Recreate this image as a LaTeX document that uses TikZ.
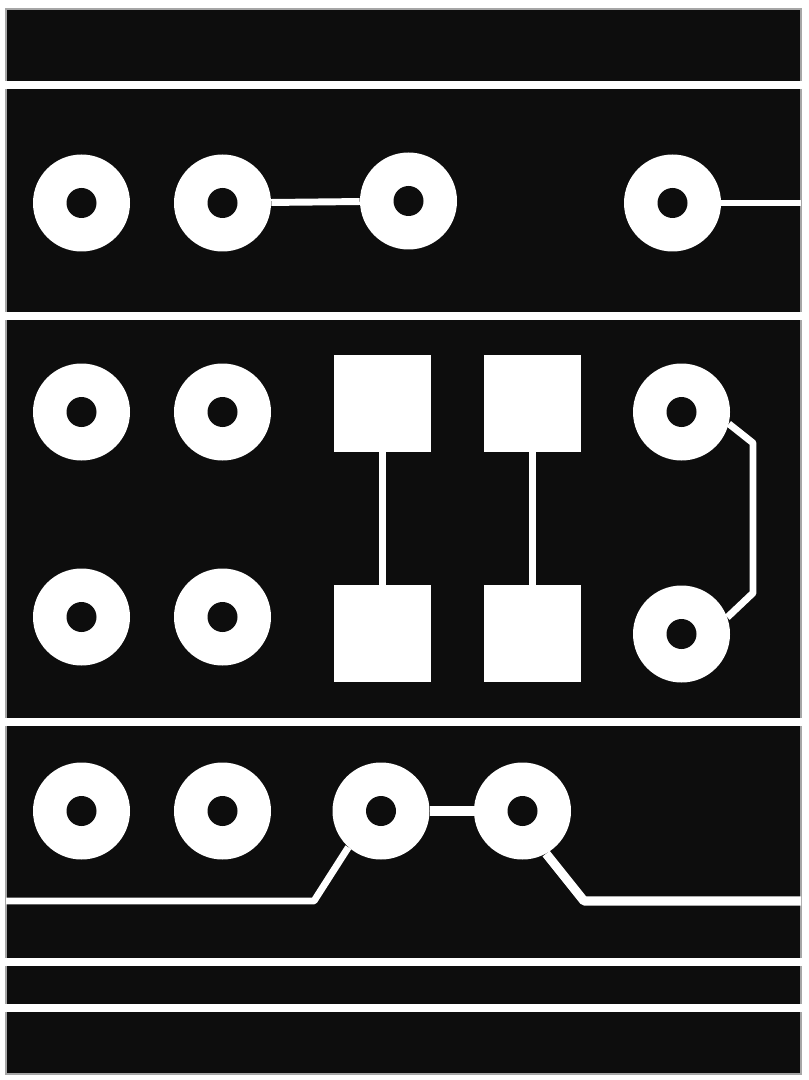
\documentclass[tikz,border=0pt]{standalone}
\usepackage{xcolor}
\definecolor{board}{gray}{0.05}
\tikzset{
  pad/.style={circle,fill=white,inner sep=0pt,minimum size=72.75pt},
  hole/.style={circle,fill=board,inner sep=0pt,minimum size=22.5pt},
  block/.style={rectangle,fill=white,inner sep=0pt,minimum size=72.75pt},
  track/.style={white,line width=5.2pt,line join=bevel},
  widetrack/.style={white,line width=6.8pt,line join=bevel},
  rail/.style={white,line width=6pt}
}
\begin{document}
\begin{tikzpicture}[x=0.75pt,y=-0.75pt]
        \useasboundingbox (0,0) rectangle (808,1080);
        \fill [white] (0,0) rectangle (808,1080);
        \draw [fill=board,draw=gray!70,line width=1.5pt] (5.5,9.5) rectangle (801,1073.5);
        \draw [rail] (5,85.5) -- (802,85.5);
        \draw [rail] (5,315.5) -- (802,315.5);
        \draw [rail] (5,721.5) -- (802,721.5);
        \draw [rail] (5,962) -- (802,962);
        \draw [rail] (5,1007.5) -- (802,1007.5);
        % pads
        \foreach \padname/\px/\py in {a1/81.5/203,a2/222.5/203,a3/408.5/201,a4/672.5/203,
            b1/81.5/412,b2/222.5/412,b3/681.5/412,
            c1/81.5/617,c2/222.5/617,c3/681.5/634,
            d1/81.5/811,d2/222.5/811,d3/381/811,d4/522.5/811} {
            \node [pad] (\padname) at (\px,\py) {};
            \node [hole] (h\padname) at (\px,\py) {};
        }
        % squares
        \node [block] (s1) at (382.5,403) {};
        \node [block] (s2) at (532.5,403) {};
        \node [block] (s3) at (382.5,633.5) {};
        \node [block] (s4) at (532.5,633.5) {};
        % free ends and bends
        \coordinate (east1) at (801,203);
        \coordinate (loop1) at (753,443);
        \coordinate (loop2) at (753,593);
        \coordinate (west4) at (6,901);
        \coordinate (bend1) at (314,901);
        \coordinate (bend2) at (584,901);
        \coordinate (east4) at (801,901);
        % tracks
        \draw [track] (a2) -- (a3);
        \draw [track] (a4) -- (east1);
        \draw [track] (s1) -- (s3);
        \draw [track] (s2) -- (s4);
        \draw [track] (b3.-14) -- (loop1) -- (loop2) -- (c3.20);
        \draw [widetrack] (d3) -- (d4);
        \draw [track] (west4) -- (bend1) -- (d3.-132);
        \draw [widetrack] (d4.-61) -- (bend2) -- (east4);
    \end{tikzpicture}
\end{document}
